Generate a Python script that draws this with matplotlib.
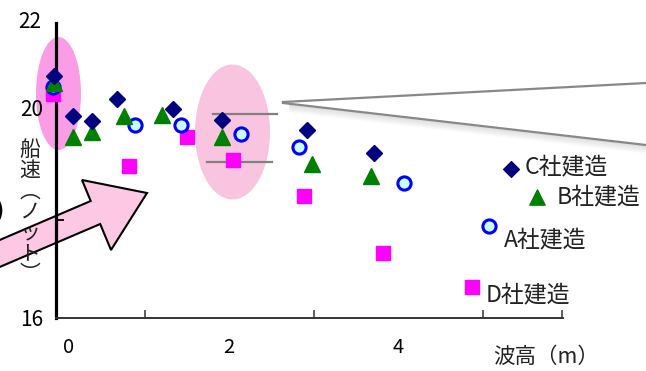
import matplotlib
matplotlib.use("Agg")
import matplotlib.pyplot as plt
from matplotlib.patches import Ellipse, Polygon
from matplotlib.lines import Line2D
from matplotlib.transforms import ScaledTranslation

plt.rcParams['font.family'] = ['Noto Sans CJK JP', 'DejaVu Sans']

# wave height (m) / ship speed (knot) for each builder
c_wave = [-0.07, 0.15, 0.38, 0.67, 1.33, 1.92, 2.92, 3.71]
c_speed = [20.92, 20.11, 20.01, 20.45, 20.25, 20.03, 19.82, 19.36]

b_wave = [-0.07, 0.15, 0.38, 0.76, 1.20, 1.92, 2.98, 3.68]
b_speed = [20.78, 19.68, 19.78, 20.11, 20.13, 19.68, 19.13, 18.89]

a_wave = [-0.08, 0.88, 1.43, 2.14, 2.82, 4.07]
a_speed = [20.70, 19.93, 19.93, 19.74, 19.48, 18.75]

d_wave = [-0.08, 0.81, 1.50, 2.05, 2.88, 3.82]
d_speed = [20.56, 19.09, 19.68, 19.21, 18.48, 17.32]

labels = ['C社建造', 'B社建造', 'A社建造', 'D社建造']
x_ticks = [0, 2, 4]
y_ticks = [16, 20, 22]

W, H = 646, 371
fig = plt.figure(figsize=(6.46, 3.71), dpi=100)
ax = fig.add_axes([56 / W, 1 - 318 / H, (563 - 56) / W, (318 - 23) / H])


def px(x, y):
    return (x / W, 1 - y / H)


tf = fig.transFigure

# highlight ellipses
ax.add_patch(Ellipse(px(58.5, 93.5), 45 / W, 113 / H, transform=tf,
                     facecolor='#fa9de6', edgecolor='none', clip_on=False, zorder=0.5))
ax.add_patch(Ellipse(px(232.5, 132), 75 / W, 135 / H, transform=tf,
                     facecolor='#f9c4e0', edgecolor='none', clip_on=False, zorder=0.5))

# range bars inside the second ellipse
for (x0, x1, y) in [(213, 277, 114), (207, 272, 162)]:
    (fx0, fy), (fx1, _) = px(x0, y), px(x1, y)
    ax.add_line(Line2D([fx0, fx1], [fy, fy], transform=tf, color='#808080',
                       lw=1.6, clip_on=False, zorder=3))

# callout lines with shadow
for k in range(1, 9):
    p0, p1 = px(290, 104 + k), px(646, 145 + k)
    ax.add_line(Line2D([p0[0], p1[0]], [p0[1], p1[1]], transform=tf,
                       color='#9a9a9a', alpha=0.22 * (1 - k / 9), lw=1.2,
                       clip_on=False, zorder=0.6))
for (x0, y0, x1, y1) in [(283, 102, 646, 83), (283, 103, 646, 145)]:
    p0, p1 = px(x0, y0), px(x1, y1)
    ax.add_line(Line2D([p0[0], p1[0]], [p0[1], p1[1]], transform=tf,
                       color='#888888', lw=1.6, clip_on=False, zorder=0.7))

# big arrow
arrow_px = [(-5, 242), (90.7, 201), (82, 180), (147, 193), (111, 250),
            (100.2, 224), (-5, 269)]
ax.add_patch(Polygon([px(x, y) for x, y in arrow_px], closed=True, transform=tf,
                     facecolor='#fcc8e4', edgecolor='black', lw=1.5,
                     clip_on=False, zorder=1.2))

# data
ax.plot(d_wave, d_speed, ls='none', marker='s', ms=10.5, color='#ff00ff',
        clip_on=False, zorder=3)
ax.plot(a_wave, a_speed, ls='none', marker='o', ms=9.5, mfc='#ccffff',
        mec='#0000ff', mew=2.2, clip_on=False, zorder=4)
ax.plot(b_wave, b_speed, ls='none', marker='^', ms=11, color='#008000',
        clip_on=False, zorder=5)
ax.plot(c_wave, c_speed, ls='none', marker='D', ms=8, color='#000080',
        clip_on=False, zorder=6)

ax.set_xlim(-0.05, 5.95)
ax.set_ylim(16, 22)

for s in ['top', 'right']:
    ax.spines[s].set_visible(False)
ax.spines['left'].set_linewidth(2.3)
ax.spines['left'].set_color('black')
ax.spines['bottom'].set_linewidth(1.4)
ax.spines['bottom'].set_color('#333333')

ax.set_xticks(x_ticks, [str(v) for v in x_ticks])
ax.set_xticks([1, 2, 3, 4, 5, 5.94], minor=True)
ax.tick_params(axis='x', which='major', length=0, pad=14, labelsize=14.5)
ax.tick_params(axis='x', which='minor', direction='in', length=6, width=1.1,
               color='#333333')
ax.set_yticks(y_ticks, [str(v) for v in y_ticks])
ax.set_yticks([18, 20, 22], minor=True)
ax.tick_params(axis='y', which='major', length=0, pad=9, labelsize=15)
ax.tick_params(axis='y', which='minor', direction='in', length=6, width=1.3,
               color='black')

# nudge a couple of tick labels the way the original artwork has them
xt = ax.xaxis.get_major_ticks()
xt[0].label1.set_transform(xt[0].label1.get_transform()
                           + ScaledTranslation(0.08, 0, fig.dpi_scale_trans))
yt = ax.yaxis.get_major_ticks()
yt[1].label1.set_transform(yt[1].label1.get_transform()
                           + ScaledTranslation(0, 0.14, fig.dpi_scale_trans))
yt[2].label1.set_transform(yt[2].label1.get_transform()
                           + ScaledTranslation(-0.02, 0.04, fig.dpi_scale_trans))

ax.set_xlabel('波高（m）', fontsize=15.5, color='#222222')
ax.xaxis.set_label_coords((546 - 56) / 507, -(357 - 318) / 295)
ax.xaxis.label.set_va('center')

fig.text(*px(30, 212), '\n'.join('船速︵ノット︶'), ha='center', va='center',
         fontsize=15, linespacing=0.92, color='#222222', zorder=5)
fig.text(*px(4, 212), ')', ha='right', va='center', fontsize=20,
         fontweight='bold', family='DejaVu Sans')

# free-standing legend entries
handles = [
    ax.scatter([], [], marker='D', s=64, color='#000080'),
    ax.scatter([], [], marker='^', s=121, color='#008000'),
    ax.scatter([], [], marker='o', s=90, facecolor='#ccffff',
               edgecolor='#0000ff', linewidths=2.2),
    ax.scatter([], [], marker='s', s=110, color='#ff00ff'),
]
anchors = [(499.5, 167), (525.5, 197), (477.5, 240), (460.5, 295)]
tpads = [0.08, 0.35, 0.17, 0.08]
yoffs = [0.29, 0.42, 1.29, 0.92]
for h, lab, (lx, ly), tp, yo in zip(handles, labels, anchors, tpads, yoffs):
    leg = fig.legend(handles=[h], labels=[lab], loc='center left',
                     bbox_to_anchor=px(lx, ly), frameon=False, fontsize=16.5,
                     handlelength=1.0, handletextpad=tp, borderpad=0,
                     borderaxespad=0, scatterpoints=1, scatteryoffsets=[yo])
    for t in leg.get_texts():
        t.set_color('#222222')

fig.savefig('out.png', dpi=100)
